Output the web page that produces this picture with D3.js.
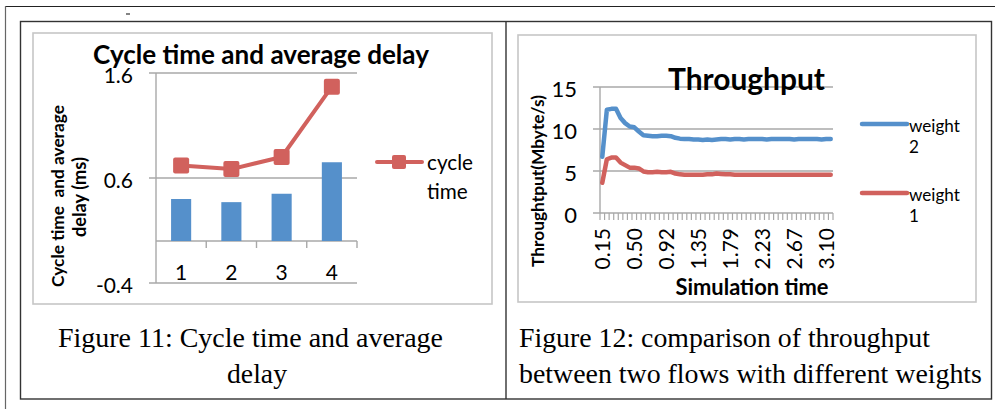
<!DOCTYPE html>
<html>
<head>
<meta charset="utf-8">
<script src="https://cdn.jsdelivr.net/npm/d3@7"></script>
<style>
  body { margin: 0; background: #fff; }
  svg { display: block; }
</style>
</head>
<body>
<div id="page"></div>
<script>
// figure 11 data
var cats = ["1", "2", "3", "4"];
var avgDelay = [0.40, 0.37, 0.45, 0.75];
var cycleTime = [0.72, 0.685, 0.80, 1.47];
var delayTicks = [-0.4, 0.6, 1.6];

// figure 12 data
var simTime = [0.15, 0.20, 0.25, 0.30, 0.35, 0.40, 0.45, 0.50, 0.56, 0.62, 0.68, 0.74, 0.80,
  0.86, 0.92, 0.98, 1.04, 1.10, 1.17, 1.23, 1.29, 1.35, 1.41, 1.48, 1.54, 1.60, 1.67, 1.73,
  1.79, 1.85, 1.92, 1.98, 2.04, 2.10, 2.17, 2.23, 2.29, 2.36, 2.42, 2.48, 2.54, 2.61, 2.67,
  2.73, 2.79, 2.85, 2.92, 2.98, 3.04, 3.10, 3.16];
var weight2 = [6.7, 12.3, 12.4, 12.4, 11.3, 10.7, 10.3, 10.2, 9.7, 9.25, 9.2, 9.15, 9.15,
  9.2, 9.2, 9.15, 8.95, 8.85, 8.8, 8.8, 8.75, 8.75, 8.7, 8.75, 8.7, 8.75, 8.8, 8.8,
  8.75, 8.8, 8.8, 8.75, 8.8, 8.8, 8.8, 8.8, 8.75, 8.8, 8.8, 8.8, 8.8, 8.8, 8.75,
  8.8, 8.8, 8.8, 8.8, 8.8, 8.75, 8.8, 8.8];
var weight1 = [3.6, 6.4, 6.6, 6.6, 6.0, 5.7, 5.4, 5.4, 5.3, 4.95, 4.85, 4.85, 4.9,
  4.85, 4.85, 4.9, 4.7, 4.6, 4.55, 4.55, 4.55, 4.55, 4.55, 4.6, 4.6, 4.7, 4.65, 4.6,
  4.6, 4.55, 4.55, 4.55, 4.55, 4.55, 4.55, 4.55, 4.55, 4.55, 4.55, 4.55, 4.55, 4.55, 4.55,
  4.55, 4.55, 4.55, 4.55, 4.55, 4.55, 4.55, 4.55];
var tputTicks = [0, 5, 10, 15];
var timeLabelEvery = 7;

var blue = "#5590cb", red = "#d1615d", grid = "#a8a8a8";
var sans = "Lato, 'Open Sans', sans-serif";
var serif = "'Liberation Serif', 'DejaVu Serif', serif";

var svg = d3.select("#page").append("svg").attr("width", 995).attr("height", 409);

// scale the font so the text takes the given width
function fit(t, w) {
  var fs = parseFloat(t.style("font-size"));
  var len = t.node().getComputedTextLength();
  t.style("font-size", (fs * w / len).toFixed(2) + "px");
  return t;
}

function label(g, x, y, txt, size, opts) {
  opts = opts || {};
  var t = g.append("text")
    .attr("x", x).attr("y", y)
    .attr("text-anchor", opts.anchor || "start")
    .style("font-family", opts.family || sans)
    .style("font-weight", opts.bold ? "bold" : "normal")
    .style("font-size", size + "px")
    .style("white-space", "pre")
    .attr("fill", "#000")
    .text(txt);
  if (opts.rotate) t.attr("transform", "rotate(-90," + x + "," + y + ")");
  if (opts.width) fit(t, opts.width);
  return t;
}

// excel style number, plain hyphen for negatives
function num1(d) { return d.toFixed(1); }

// page / table lines
svg.append("line").attr("x1", 5).attr("x2", 995).attr("y1", 6.5).attr("y2", 6.5).attr("stroke", "#222").attr("stroke-width", 1.2);
svg.append("line").attr("x1", 5.5).attr("x2", 5.5).attr("y1", 6).attr("y2", 409).attr("stroke", "#666").attr("stroke-width", 1.2);
svg.append("line").attr("x1", 126).attr("x2", 130).attr("y1", 14).attr("y2", 14).attr("stroke", "#333").attr("stroke-width", 1.2);
svg.append("rect").attr("x", 20.5).attr("y", 21.5).attr("width", 971).attr("height", 377.5)
  .attr("fill", "none").attr("stroke", "#333").attr("stroke-width", 1.4);
svg.append("line").attr("x1", 506).attr("x2", 506).attr("y1", 21).attr("y2", 399).attr("stroke", "#333").attr("stroke-width", 1.4);

// ---------------- Figure 11 ----------------
var g1 = svg.append("g");
g1.append("rect").attr("x", 33).attr("y", 33).attr("width", 459).attr("height", 271)
  .attr("fill", "#fff").attr("stroke", "#c6c6c6").attr("stroke-width", 1.6);

var x1 = d3.scaleBand().domain(cats).range([156, 357]);
var y1 = d3.scaleLinear().domain([-0.4, 1.6]).range([283, 73]);

g1.selectAll(".grid").data(delayTicks).enter().append("line")
  .attr("x1", 149).attr("x2", 357)
  .attr("y1", function(d) { return y1(d); }).attr("y2", function(d) { return y1(d); })
  .attr("stroke", grid).attr("stroke-width", 1.4);
g1.append("line").attr("x1", 156).attr("x2", 156).attr("y1", y1(1.6)).attr("y2", y1(-0.4))
  .attr("stroke", grid).attr("stroke-width", 1.4);
// category axis sits at zero
g1.append("line").attr("x1", 156).attr("x2", 357).attr("y1", y1(0)).attr("y2", y1(0))
  .attr("stroke", grid).attr("stroke-width", 1.4);
g1.selectAll(".ctick").data(cats).enter().append("line")
  .attr("x1", function(d) { return x1(d) + x1.bandwidth(); })
  .attr("x2", function(d) { return x1(d) + x1.bandwidth(); })
  .attr("y1", y1(0)).attr("y2", y1(0) + 7)
  .attr("stroke", grid).attr("stroke-width", 1.4);

delayTicks.forEach(function(d) {
  label(g1, 133, y1(d) + 3, num1(d), 21, {anchor: "end"}).attr("dy", "0.35em");
});
cats.forEach(function(c) {
  label(g1, x1(c) + x1.bandwidth() / 2, 280, c, 21, {anchor: "middle"});
});

var bw = x1.bandwidth() / 2.5;
g1.selectAll(".bar").data(avgDelay).enter().append("rect")
  .attr("x", function(d, i) { return x1(cats[i]) + x1.bandwidth() / 2 - bw / 2; })
  .attr("width", bw)
  .attr("y", function(d) { return y1(d); })
  .attr("height", function(d) { return y1(0) - y1(d); })
  .attr("fill", blue);

var line1 = d3.line()
  .x(function(d, i) { return x1(cats[i]) + x1.bandwidth() / 2; })
  .y(function(d) { return y1(d); });
g1.append("path").datum(cycleTime).attr("d", line1)
  .attr("fill", "none").attr("stroke", red).attr("stroke-width", 4).attr("stroke-linejoin", "round");
g1.selectAll(".mk").data(cycleTime).enter().append("rect")
  .attr("x", function(d, i) { return x1(cats[i]) + x1.bandwidth() / 2 - 8; })
  .attr("y", function(d) { return y1(d) - 8; })
  .attr("width", 16).attr("height", 16).attr("rx", 2)
  .attr("fill", red);

label(g1, 261, 64, "Cycle time and average delay", 24, {anchor: "middle", bold: true, width: 336});
label(g1, 58, 196, "Cycle time  and average", 14, {anchor: "middle", bold: true, rotate: true, width: 182}).attr("dy", "0.35em");
label(g1, 80, 197, "delay (ms)", 14, {anchor: "middle", bold: true, rotate: true, width: 80}).attr("dy", "0.35em");

// legend
g1.append("line").attr("x1", 377).attr("x2", 422).attr("y1", 162).attr("y2", 162)
  .attr("stroke", red).attr("stroke-width", 4).attr("stroke-linecap", "round");
g1.append("rect").attr("x", 392).attr("y", 155).attr("width", 14).attr("height", 14).attr("rx", 2).attr("fill", red);
var lg = label(g1, 427, 163, "cycle", 20, {width: 46}).attr("dy", "0.35em");
label(g1, 427, 192, "time", 20).style("font-size", lg.style("font-size")).attr("dy", "0.35em");

label(g1, 58, 347, "Figure 11: Cycle time and average", 24, {family: serif, width: 385});
label(g1, 257, 383, "delay", 24, {family: serif, anchor: "middle", width: 60});

// ---------------- Figure 12 ----------------
var g2 = svg.append("g");
g2.append("rect").attr("x", 518).attr("y", 35).attr("width", 458).attr("height", 267)
  .attr("fill", "#fff").attr("stroke", "#c6c6c6").attr("stroke-width", 1.6);

var idx = d3.range(simTime.length);
var x2 = d3.scaleBand().domain(idx).range([600, 833]);
var y2 = d3.scaleLinear().domain([0, 15]).range([213, 87]);

g2.selectAll(".grid").data(tputTicks).enter().append("line")
  .attr("x1", 593).attr("x2", 833)
  .attr("y1", function(d) { return y2(d); }).attr("y2", function(d) { return y2(d); })
  .attr("stroke", grid).attr("stroke-width", 1.4);
g2.append("line").attr("x1", 600).attr("x2", 600).attr("y1", y2(15)).attr("y2", y2(0))
  .attr("stroke", grid).attr("stroke-width", 1.4);
g2.selectAll(".ttick").data(idx.concat([simTime.length])).enter().append("line")
  .attr("x1", function(d) { return d < simTime.length ? x2(d) : 833; })
  .attr("x2", function(d) { return d < simTime.length ? x2(d) : 833; })
  .attr("y1", y2(0)).attr("y2", y2(0) + 7)
  .attr("stroke", grid).attr("stroke-width", 1.2);

tputTicks.forEach(function(d) {
  label(g2, 577, y2(d) + 2.5, String(d), 22, {anchor: "end"}).attr("dy", "0.35em");
});
idx.filter(function(i) { return i % timeLabelEvery === 0; }).forEach(function(i) {
  label(g2, x2(i) + x2.bandwidth() / 2 + 0.5, 228, simTime[i].toFixed(2), 21, {anchor: "end", rotate: true})
    .attr("dy", "0.35em");
});

var line2 = d3.line()
  .x(function(d, i) { return x2(i) + x2.bandwidth() / 2; })
  .y(function(d) { return y2(d); });
[[weight1, red], [weight2, blue]].forEach(function(s) {
  g2.append("path").datum(s[0]).attr("d", line2)
    .attr("fill", "none").attr("stroke", s[1]).attr("stroke-width", 4.5)
    .attr("stroke-linejoin", "round").attr("stroke-linecap", "round");
});

label(g2, 746.5, 90, "Throughput", 28, {anchor: "middle", bold: true, width: 157});
label(g2, 538, 181, "Throughtput(Mbyte/s)", 14, {anchor: "middle", bold: true, rotate: true, width: 172}).attr("dy", "0.35em");
label(g2, 752, 287, "Simulation time", 18, {anchor: "middle", bold: true, width: 153}).attr("dy", "0.35em");

// legend
var leg = [["weight", "2", blue, 124], ["weight", "1", red, 193]];
leg.forEach(function(l) {
  g2.append("line").attr("x1", 862).attr("x2", 907).attr("y1", l[3]).attr("y2", l[3])
    .attr("stroke", l[2]).attr("stroke-width", 4.5).attr("stroke-linecap", "round");
  var t = label(g2, 909, l[3] + 2, l[0], 18, {width: 51}).attr("dy", "0.35em");
  label(g2, 909, l[3] + 23, l[1], 18).style("font-size", t.style("font-size")).attr("dy", "0.35em");
});

label(g2, 519, 347, "Figure 12: comparison of throughput", 24, {family: serif, width: 411});
label(g2, 519, 383, "between two flows with different weights", 24, {family: serif, width: 463});
</script>
</body>
</html>
